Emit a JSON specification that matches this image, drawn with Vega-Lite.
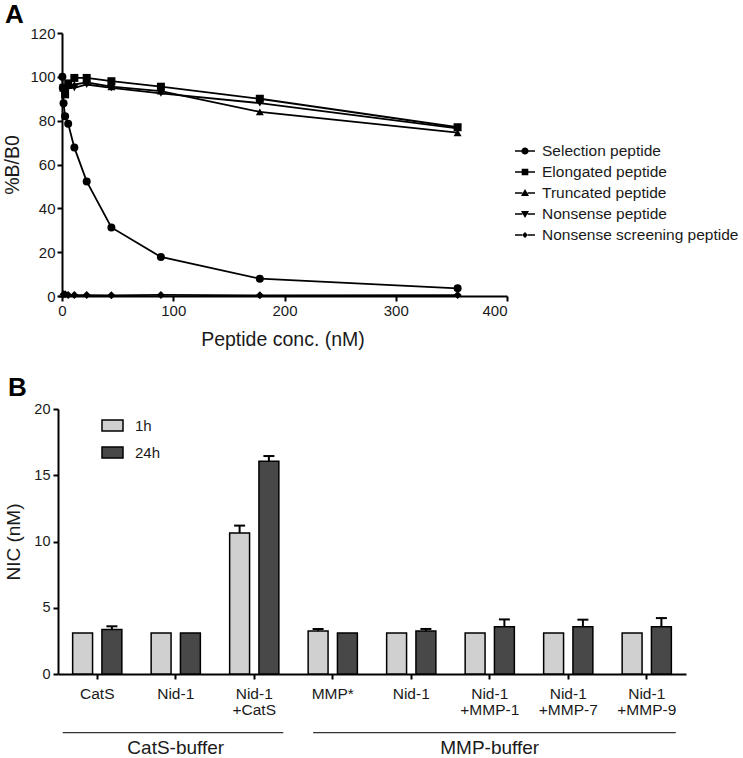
{
  "$schema": "https://vega.github.io/schema/vega-lite/v6.json",
  "padding": {"left": 2, "top": 2, "right": 5, "bottom": 0},
  "config": {
    "font": "Liberation Sans",
    "view": {"stroke": null},
    "axis": {"domainColor": "black", "domainWidth": 2, "tickColor": "black", "tickWidth": 2, "tickSize": 5, "labelColor": "#1a1a1a", "titleColor": "#1a1a1a", "titleFontWeight": "normal", "grid": false, "labelFont": "Liberation Sans", "titleFont": "Liberation Sans"},
    "legend": {"labelFont": "Liberation Sans", "labelColor": "#1a1a1a", "padding": 0},
    "title": {"font": "Liberation Sans", "fontWeight": "bold", "fontSize": 26, "color": "black"}
  },
  "datasets": {
    "binding": [
      {"series": "Selection peptide", "conc": 0.35, "pct": 100},
      {"series": "Selection peptide", "conc": 0.69, "pct": 95},
      {"series": "Selection peptide", "conc": 1.39, "pct": 88},
      {"series": "Selection peptide", "conc": 2.78, "pct": 82},
      {"series": "Selection peptide", "conc": 5.56, "pct": 78.6},
      {"series": "Selection peptide", "conc": 11.1, "pct": 67.7},
      {"series": "Selection peptide", "conc": 22.2, "pct": 52.3},
      {"series": "Selection peptide", "conc": 44.4, "pct": 31.3},
      {"series": "Selection peptide", "conc": 88.9, "pct": 17.8},
      {"series": "Selection peptide", "conc": 177.8, "pct": 7.9},
      {"series": "Selection peptide", "conc": 355.6, "pct": 3.5},
      {"series": "Elongated peptide", "conc": 1.39, "pct": 95},
      {"series": "Elongated peptide", "conc": 2.78, "pct": 92},
      {"series": "Elongated peptide", "conc": 5.56, "pct": 97},
      {"series": "Elongated peptide", "conc": 11.1, "pct": 99.5},
      {"series": "Elongated peptide", "conc": 22.2, "pct": 99.5},
      {"series": "Elongated peptide", "conc": 44.4, "pct": 98},
      {"series": "Elongated peptide", "conc": 88.9, "pct": 95.5},
      {"series": "Elongated peptide", "conc": 177.8, "pct": 90},
      {"series": "Elongated peptide", "conc": 355.6, "pct": 77},
      {"series": "Truncated peptide", "conc": 2.78, "pct": 93.5},
      {"series": "Truncated peptide", "conc": 5.56, "pct": 96},
      {"series": "Truncated peptide", "conc": 11.1, "pct": 96.5},
      {"series": "Truncated peptide", "conc": 22.2, "pct": 97.5},
      {"series": "Truncated peptide", "conc": 44.4, "pct": 95.5},
      {"series": "Truncated peptide", "conc": 88.9, "pct": 93.5},
      {"series": "Truncated peptide", "conc": 177.8, "pct": 84},
      {"series": "Truncated peptide", "conc": 355.6, "pct": 74.5},
      {"series": "Nonsense peptide", "conc": 2.78, "pct": 92.5},
      {"series": "Nonsense peptide", "conc": 5.56, "pct": 95},
      {"series": "Nonsense peptide", "conc": 11.1, "pct": 95},
      {"series": "Nonsense peptide", "conc": 22.2, "pct": 96.5},
      {"series": "Nonsense peptide", "conc": 44.4, "pct": 95},
      {"series": "Nonsense peptide", "conc": 88.9, "pct": 92.5},
      {"series": "Nonsense peptide", "conc": 177.8, "pct": 88},
      {"series": "Nonsense peptide", "conc": 355.6, "pct": 76.5},
      {"series": "Nonsense screening peptide", "conc": 1.39, "pct": 0.8},
      {"series": "Nonsense screening peptide", "conc": 2.78, "pct": 0.8},
      {"series": "Nonsense screening peptide", "conc": 5.56, "pct": 0.5},
      {"series": "Nonsense screening peptide", "conc": 11.1, "pct": 0.4},
      {"series": "Nonsense screening peptide", "conc": 22.2, "pct": 0.4},
      {"series": "Nonsense screening peptide", "conc": 44.4, "pct": 0.3},
      {"series": "Nonsense screening peptide", "conc": 88.9, "pct": 0.5},
      {"series": "Nonsense screening peptide", "conc": 177.8, "pct": 0.3},
      {"series": "Nonsense screening peptide", "conc": 355.6, "pct": 0.4}
    ],
    "nic": [
      {"condition": "CatS", "time": "1h", "nic": 3.1, "upper": null},
      {"condition": "CatS", "time": "24h", "nic": 3.35, "upper": 3.6},
      {"condition": "Nid-1", "time": "1h", "nic": 3.1, "upper": null},
      {"condition": "Nid-1", "time": "24h", "nic": 3.1, "upper": null},
      {"condition": "Nid-1 +CatS", "time": "1h", "nic": 10.65, "upper": 11.2},
      {"condition": "Nid-1 +CatS", "time": "24h", "nic": 16.05, "upper": 16.45},
      {"condition": "MMP*", "time": "1h", "nic": 3.25, "upper": 3.4},
      {"condition": "MMP*", "time": "24h", "nic": 3.1, "upper": null},
      {"condition": "Nid-1 ", "time": "1h", "nic": 3.1, "upper": null},
      {"condition": "Nid-1 ", "time": "24h", "nic": 3.25, "upper": 3.4},
      {"condition": "Nid-1 +MMP-1", "time": "1h", "nic": 3.1, "upper": null},
      {"condition": "Nid-1 +MMP-1", "time": "24h", "nic": 3.57, "upper": 4.12},
      {"condition": "Nid-1 +MMP-7", "time": "1h", "nic": 3.1, "upper": null},
      {"condition": "Nid-1 +MMP-7", "time": "24h", "nic": 3.57, "upper": 4.1},
      {"condition": "Nid-1 +MMP-9", "time": "1h", "nic": 3.1, "upper": null},
      {"condition": "Nid-1 +MMP-9", "time": "24h", "nic": 3.57, "upper": 4.22}
    ],
    "groups": [
      {"group": "CatS-buffer", "start": 0.06, "end": 2.87, "mid": 1.5},
      {"group": "MMP-buffer", "start": 3.25, "end": 7.87, "mid": 5.5}
    ]
  },
  "columns": 1,
  "spacing": 113,
  "bounds": "flush",
  "concat": [
    {
      "width": 449,
      "height": 263,
      "title": {"text": "A", "anchor": "start", "frame": "group", "dx": -53, "offset": -23, "baseline": "alphabetic"},
      "data": {"name": "binding"},
      "resolve": {"scale": {"shape": "independent"}, "legend": {"shape": "independent"}},
      "layer": [
        {
          "mark": {"type": "line", "color": "black", "strokeWidth": 1.8},
          "encoding": {
            "x": {"field": "conc", "type": "quantitative", "scale": {"domain": [-3.6, 400], "nice": false, "zero": false},
              "axis": {"values": [0, 100, 200, 300, 400], "title": "Peptide conc. (nM)", "titleFontSize": 19.5, "labelFontSize": 15, "labelPadding": 2, "titlePadding": 12}},
            "y": {"field": "pct", "type": "quantitative", "scale": {"domain": [0, 120], "nice": false},
              "axis": {"values": [0, 20, 40, 60, 80, 100, 120], "title": "%B/B0", "titleFontSize": 19.5, "labelFontSize": 15, "labelPadding": 2, "titlePadding": 7, "offset": -4}},
            "detail": {"field": "series", "type": "nominal"}
          }
        },
        {
          "mark": {"type": "point", "filled": true, "color": "black", "opacity": 1, "size": 64},
          "encoding": {
            "x": {"field": "conc", "type": "quantitative"},
            "y": {"field": "pct", "type": "quantitative"},
            "shape": {"field": "series", "type": "nominal",
              "scale": {"domain": ["Selection peptide", "Elongated peptide", "Truncated peptide", "Nonsense peptide", "Nonsense screening peptide"], "range": ["circle", "square", "triangle-up", "triangle-down", "diamond"]},
              "legend": null}
          }
        },
        {
          "transform": [{"filter": "false"}],
          "mark": {"type": "point", "filled": true, "color": "black", "opacity": 1, "size": 400},
          "encoding": {
            "x": {"field": "conc", "type": "quantitative"},
            "y": {"field": "pct", "type": "quantitative"},
            "shape": {"field": "series", "type": "nominal",
              "scale": {"domain": ["Selection peptide", "Elongated peptide", "Truncated peptide", "Nonsense peptide", "Nonsense screening peptide"],
                "range": [
                  "M-1,-0.08H-0.34V0.08H-1Z M0.34,-0.08H1V0.08H0.34Z M-0.36,0A0.36,0.36 0 1,1 0.36,0A0.36,0.36 0 1,1 -0.36,0Z",
                  "M-1,-0.08H-0.32V0.08H-1Z M0.32,-0.08H1V0.08H0.32Z M-0.33,-0.33H0.33V0.33H-0.33Z",
                  "M-1,-0.08H-0.26V0.08H-1Z M0.26,-0.08H1V0.08H0.26Z M0,-0.4L0.4,0.3H-0.4Z",
                  "M-1,-0.08H-0.26V0.08H-1Z M0.26,-0.08H1V0.08H0.26Z M0,0.4L0.4,-0.3H-0.4Z",
                  "M-1,-0.08H-0.3V0.08H-1Z M0.3,-0.08H1V0.08H0.3Z M0,-0.3L0.3,0L0,0.3L-0.3,0Z"
                ]},
              "legend": {"orient": "none", "legendX": 457, "legendY": 108, "title": null, "symbolSize": 400, "symbolFillColor": "black", "symbolStrokeWidth": 0, "symbolOpacity": 1, "labelFontSize": 15.5, "labelOffset": 7, "labelLimit": 400, "rowPadding": 2}}
          }
        }
      ]
    },
    {
      "vconcat": [
        {
          "width": 628,
          "height": 265,
          "title": {"text": "B", "anchor": "start", "frame": "group", "dx": -50, "offset": -21, "baseline": "alphabetic"},
          "data": {"name": "nic"},
          "layer": [
            {
              "mark": {"type": "bar", "stroke": "black", "strokeWidth": 1.5},
              "encoding": {
                "x": {"field": "condition", "type": "nominal", "sort": null, "scale": {"paddingInner": 0, "paddingOuter": 0},
                  "axis": {"title": null, "labelAngle": 0, "labelFontSize": 15.5, "labelPadding": 7, "labelLineHeight": 16.5, "labelExpr": "split(trim(datum.value), ' ')"}},
                "xOffset": {"field": "time", "type": "nominal", "scale": {"paddingInner": 0.32, "paddingOuter": 0.5}},
                "y": {"field": "nic", "type": "quantitative", "scale": {"domain": [0, 20], "nice": false},
                  "axis": {"values": [0, 5, 10, 15, 20], "title": "NIC (nM)", "titleFontSize": 19, "labelFontSize": 14.5, "labelPadding": 3, "titlePadding": 10}},
                "fill": {"field": "time", "type": "nominal", "scale": {"domain": ["1h", "24h"], "range": ["#d0d0d0", "#484848"]},
                  "legend": {"orient": "none", "legendX": 43, "legendY": 381, "title": null, "symbolType": "M-1,-0.52H1V0.52H-1Z", "symbolSize": 441, "symbolStrokeColor": "black", "symbolStrokeWidth": 1.5, "labelFontSize": 15, "labelOffset": 11, "rowPadding": 7}}
              }
            },
            {
              "transform": [{"filter": "datum.upper != null"}],
              "mark": {"type": "rule", "color": "black", "strokeWidth": 2},
              "encoding": {
                "x": {"field": "condition", "type": "nominal", "sort": null},
                "xOffset": {"field": "time", "type": "nominal"},
                "y": {"field": "nic", "type": "quantitative"},
                "y2": {"field": "upper"}
              }
            },
            {
              "transform": [{"filter": "datum.upper != null"}],
              "mark": {"type": "tick", "orient": "horizontal", "size": 11, "thickness": 2, "color": "black", "opacity": 1},
              "encoding": {
                "x": {"field": "condition", "type": "nominal", "sort": null},
                "xOffset": {"field": "time", "type": "nominal"},
                "y": {"field": "upper", "type": "quantitative"}
              }
            }
          ]
        },
        {
          "width": 628,
          "height": 15.5,
          "data": {"name": "groups"},
          "layer": [
            {
              "mark": {"type": "rule", "color": "#333333", "strokeWidth": 1.2},
              "encoding": {
                "x": {"field": "start", "type": "quantitative", "scale": {"domain": [0, 8], "nice": false}, "axis": null},
                "x2": {"field": "end"},
                "y": {"datum": 1, "type": "quantitative", "scale": {"domain": [0, 1], "nice": false}, "axis": null}
              }
            },
            {
              "mark": {"type": "text", "fontSize": 19, "baseline": "middle", "color": "#1a1a1a"},
              "encoding": {
                "x": {"field": "mid", "type": "quantitative"},
                "y": {"datum": 0, "type": "quantitative"},
                "text": {"field": "group"}
              }
            }
          ]
        }
      ],
      "spacing": 58.7,
      "bounds": "flush"
    }
  ]
}
